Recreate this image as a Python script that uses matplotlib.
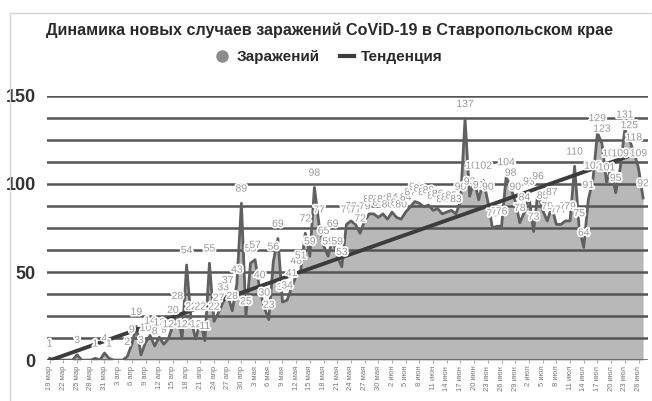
import numpy as np
import pandas as pd
import matplotlib
matplotlib.use("Agg")
import matplotlib.pyplot as plt
from matplotlib.lines import Line2D
from matplotlib.patches import Rectangle
import matplotlib.patheffects as pe

plt.rcParams['font.family'] = ['Liberation Sans', 'DejaVu Sans']

# daily new cases, starting 19 March 2020
start_date = "2020-03-19"
cases = [
    1, 0, 0, 0, 0, 0, 3, 0, 0, 0,
    1, 0, 4, 1, 0, 0, 0, 2, 9, 19,
    3, 10, 14, 8, 13, 9, 12, 20, 28, 12,
    54, 22, 12, 22, 11, 55, 22, 27, 33, 37,
    28, 43, 89, 25, 55, 57, 40, 30, 23, 56,
    69, 33, 34, 41, 48, 51, 72, 59, 98, 77,
    65, 59, 69, 59, 53, 77, 79, 77, 72, 79,
    83, 83, 81, 83, 80, 84, 81, 80, 84, 87,
    90, 89, 87, 88, 85, 86, 83, 84, 85, 83,
    90, 137, 93, 102, 91, 102, 90, 75, 76, 76,
    104, 98, 90, 78, 84, 93, 73, 96, 85, 79,
    87, 77, 77, 79, 79, 110, 75, 64, 91, 102,
    129, 123, 101, 109, 95, 109, 131, 125, 118, 109,
    92,
]
months_ru = {3: "мар", 4: "апр", 5: "мая", 6: "июн", 7: "июл"}
y_labels = [0, 50, 100, 150]

dates = pd.date_range(start_date, periods=len(cases), freq="D")
x = np.arange(len(cases))
y = np.array(cases)

fig = plt.figure(figsize=(6.52, 4.01), dpi=100)
fig.patches.append(Rectangle((0.015, -0.01), 0.985, 0.977, transform=fig.transFigure,
                             fill=False, edgecolor="#d4d4d4", lw=1))
ax = fig.add_axes([0.072, 0.102, 0.922, 0.659])

ax.fill_between(x, y, 0, color="#b8b8b8", lw=0, zorder=1)
for g in np.arange(0, 151, 12.5):
    ax.axhline(g, color="#555555", lw=1.8, zorder=2)
ax.plot(x, y, color="#606060", lw=2.0, zorder=3)

# linear trend
k, b = np.polyfit(x, y, 1)
ax.plot(x, k * x + b, color="#3c3c3c", lw=2.8, zorder=4)

for xi, yi in zip(x, y):
    if yi > 0:
        ax.annotate(str(yi), (xi, yi), xytext=(0, 7), textcoords="offset points",
                    ha="center", va="bottom", fontsize=7.5, color="#999999",
                    path_effects=[pe.withStroke(linewidth=2.5, foreground="white")],
                    zorder=5, annotation_clip=False)

ax.set_xlim(-0.6, 131.1)
ax.set_ylim(0, 150)
ax.set_xticks(x[::3])
ax.set_xticklabels([f"{d.day} {months_ru[d.month]}" for d in dates[::3]],
                   rotation=90, fontsize=5.5, color="#777777")
ax.set_yticks(y_labels)
ax.set_yticklabels([str(v) for v in y_labels], fontsize=13, fontweight="bold", color="#333333")
ax.tick_params(axis="y", length=0, pad=8)
ax.tick_params(axis="x", length=2, color="#aaaaaa", pad=2)
for s in ax.spines.values():
    s.set_visible(False)

fig.text(0.505, 0.925, "Динамика новых случаев заражений CoViD-19 в Ставропольском крае",
         ha="center", va="center", fontsize=11.6, fontweight="bold", color="#2a2a2a")

handles = [
    Line2D([], [], marker="o", ls="none", color="#8c8c8c", markersize=8),
    Line2D([], [], color="#3c3c3c", lw=3),
]
fig.legend(handles, ["Заражений", "Тенденция"], loc="center", bbox_to_anchor=(0.505, 0.858),
           ncol=2, frameon=False, handlelength=0.9, columnspacing=1.3, handletextpad=0.5,
           prop={"size": 11, "weight": "bold"}, labelcolor="#2a2a2a")

fig.savefig("out.png", dpi=100)
